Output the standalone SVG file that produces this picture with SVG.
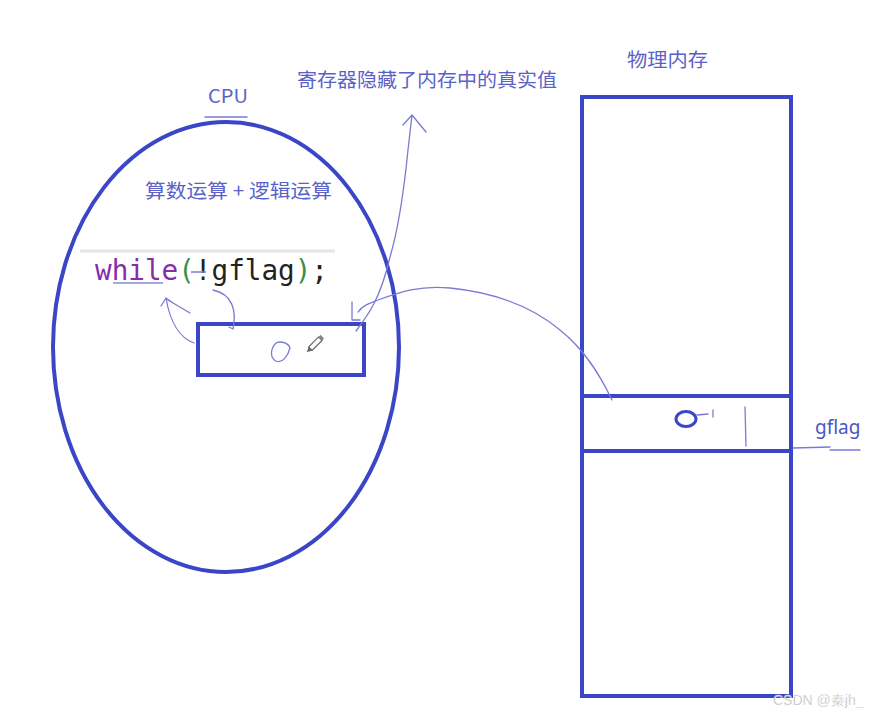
<svg xmlns="http://www.w3.org/2000/svg" width="877" height="714" viewBox="0 0 877 714">
<style>
.thick{fill:none;stroke:#3b45c7;stroke-width:4}
.pen{fill:none;stroke:#7a7ad6;stroke-width:1.3;stroke-linecap:round;stroke-linejoin:round}
.lbl{font-family:"Noto Sans CJK SC","Noto Sans",sans-serif;font-size:19px;fill:#5a62c8}
.code{font-family:"DejaVu Sans Mono","Liberation Mono",monospace;font-size:28px}
</style>
<rect width="877" height="714" fill="#ffffff"/>
<g id="cpu">
<ellipse class="thick" cx="226" cy="347" rx="173" ry="225"/>
<text class="lbl" x="208" y="103" font-family="Liberation Sans,sans-serif" textLength="40" lengthAdjust="spacingAndGlyphs">CPU</text>
<line class="pen" x1="205" y1="117" x2="247" y2="117"/>
<text class="lbl" x="145" y="198" textLength="187" lengthAdjust="spacingAndGlyphs">算数运算 + 逻辑运算</text>
</g>
<g id="code">
<line x1="80" y1="251" x2="335" y2="251" stroke="#e6e6e6" stroke-width="3"/>
<text class="code" x="95" y="280" textLength="233" lengthAdjust="spacingAndGlyphs"><tspan fill="#8a2aa8">while</tspan><tspan fill="#3f8f4a">(</tspan><tspan fill="#222">!gflag</tspan><tspan fill="#3f8f4a">)</tspan><tspan fill="#222">;</tspan></text>
<line x1="113" y1="283" x2="163" y2="283" stroke="#8a8ad8" stroke-width="1.5"/>
<line x1="191" y1="272" x2="206" y2="272" stroke="#7a7ad6" stroke-width="1.5"/>
</g>
<g id="register">
<rect class="thick" x="198" y="324" width="166" height="51"/>
<path class="pen" stroke="#5a5ac8" d="M276,343 C270,349 270,358 276,361 C282,364 288,356 290,348 C288,342 280,341 276,343 Z"/>
<g transform="translate(316,343) rotate(-45)">
<rect x="-8" y="-2.5" width="14" height="5" fill="#ffffff" stroke="#666" stroke-width="1.2"/>
<path d="M-8,-2.5 L-13,0 L-8,2.5 Z" fill="#666"/>
<rect x="6" y="-2.5" width="3" height="5" fill="#888"/>
</g>
</g>
<g id="memory">
<text class="lbl" x="627" y="67" textLength="81" lengthAdjust="spacingAndGlyphs">物理内存</text>
<rect class="thick" x="582" y="97" width="209" height="599"/>
<line class="thick" x1="582" y1="396" x2="793" y2="396"/>
<line class="thick" x1="582" y1="451" x2="793" y2="451"/>
<line class="thick" x1="791" y1="394" x2="791" y2="453" stroke-width="5"/>
<ellipse cx="686" cy="419" rx="10" ry="7.5" fill="none" stroke="#3b45c7" stroke-width="3"/>
<path class="pen" d="M697,415 L708,414 M713,410 L713,417"/>
<line class="pen" x1="745" y1="407" x2="746" y2="446"/>
</g>
<g id="gflag">
<text x="815" y="434" font-family="Noto Sans,sans-serif" font-size="19" fill="#4a56c8">gflag</text>
<path class="pen" d="M793,448 L830,447 M830,450 L860,450"/>
</g>
<g id="title">
<text class="lbl" x="297" y="87" textLength="260" lengthAdjust="spacingAndGlyphs">寄存器隐藏了内存中的真实值</text>
</g>
<g id="connectors">
<path class="pen" d="M194,343 C180,338 170,322 166,298 M166,298 L161,306 M166,298 L173,303 M168,300 L190,313"/>
<path class="pen" d="M213,290 C232,294 237,310 233,329 L229,327"/>
<path class="pen" d="M356,331 C368,315 380,300 390,257 C398,230 404,190 408,150 L412,115 M403,125 L412,115 L426,132"/>
<path class="pen" d="M352,302 L352,320 L360,320"/>
<path class="pen" d="M612,400 C600,375 585,350 560,330 C530,305 490,292 450,288 C420,285 400,292 378,300 C368,304 362,306 358,312 L361,309"/>
</g>
<text x="773" y="705" font-family="Liberation Sans,sans-serif" font-size="14" fill="#b8b8b8" stroke="#ffffff" stroke-width="0.3">CSDN @秦jh_</text>
</svg>
